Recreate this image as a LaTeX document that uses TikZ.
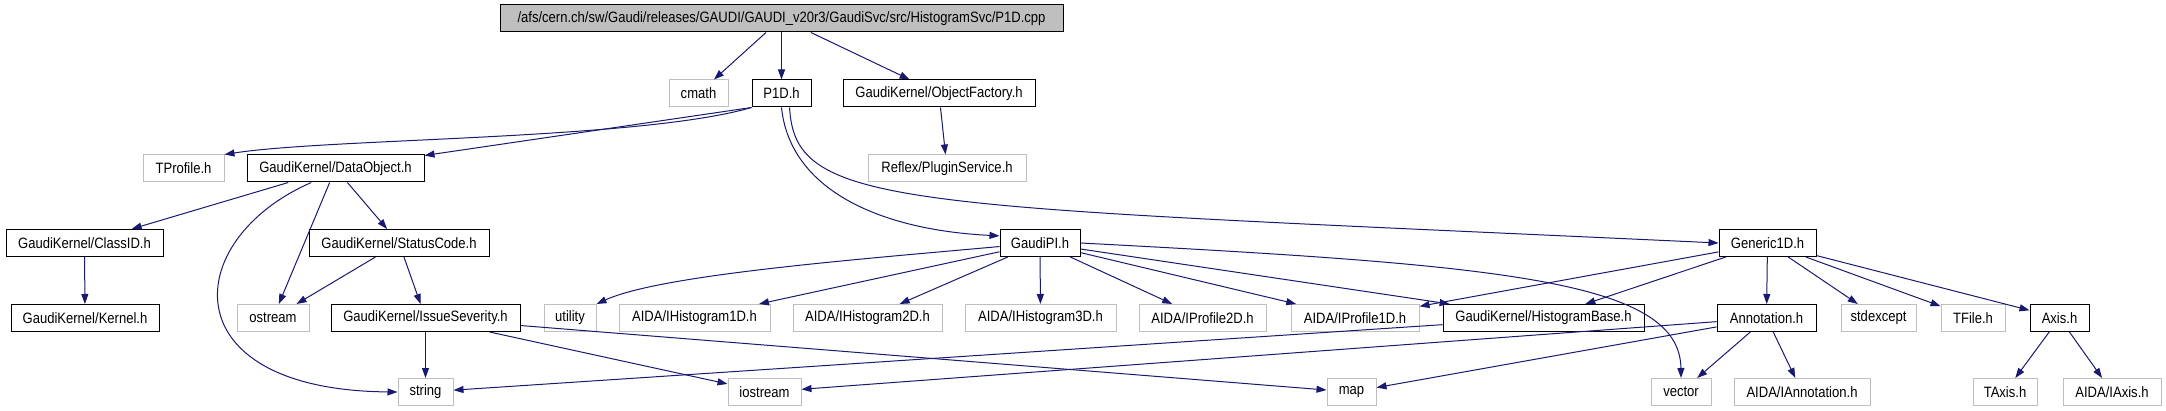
\documentclass[tikz,border=0pt]{standalone}
\usepackage{fontspec}
\setmainfont{Liberation Sans}[FakeStretch=0.87]
\usetikzlibrary{arrows.meta}
\definecolor{edgeblue}{HTML}{191970}
\definecolor{boxgrey}{HTML}{BFBFBF}
\begin{document}
\begin{tikzpicture}
[x=1pt,y=1pt,
  nodedecorate/.style={shape=rectangle,draw,line width=1pt,inner sep=0pt,minimum height=27pt,font=\fontsize{15}{17}\selectfont},%
  extdecorate/.style={nodedecorate,draw=boxgrey},%
  rootdecorate/.style={nodedecorate,fill=boxgrey},%
  arrowdecorate/.style={->,>={Stealth[length=10pt,width=7pt,inset=0pt]},draw=edgeblue,line width=1pt}]
\useasboundingbox (0,0) rectangle (2166,410);
% nodes or vertices
\node (root) at (781.5,391.5) [rootdecorate,minimum width=563pt] {/afs/cern.ch/sw/Gaudi/releases/GAUDI/GAUDI\_v20r3/GaudiSvc/src/HistogramSvc/P1D.cpp};
\node (cmath) at (698.5,316.5) [extdecorate,minimum width=59pt] {cmath};
\node (p1d) at (781.5,316.5) [nodedecorate,minimum width=59pt] {P1D.h};
\node (objfactory) at (939,316.5) [nodedecorate,minimum width=192pt] {GaudiKernel/ObjectFactory.h};
\node (tprofile) at (183.5,241.5) [extdecorate,minimum width=81pt] {TProfile.h};
\node (dataobject) at (335.5,241.5) [nodedecorate,minimum width=177pt] {GaudiKernel/DataObject.h};
\node (pluginsvc) at (947,241.5) [extdecorate,minimum width=158pt] {Reflex/PluginService.h};
\node (classid) at (84.5,167) [nodedecorate,minimum width=157pt] {GaudiKernel/ClassID.h};
\node (statuscode) at (399,167) [nodedecorate,minimum width=180pt] {GaudiKernel/StatusCode.h};
\node (gaudipi) at (1040,167) [nodedecorate,minimum width=80pt] {GaudiPI.h};
\node (generic1d) at (1767.5,167) [nodedecorate,minimum width=97pt] {Generic1D.h};
\node (kernel) at (85,92) [nodedecorate,minimum width=148pt] {GaudiKernel/Kernel.h};
\node (ostream) at (273,92) [extdecorate,minimum width=72pt] {ostream};
\node (severity) at (425.5,92) [nodedecorate,minimum width=189pt] {GaudiKernel/IssueSeverity.h};
\node (utility) at (570,92) [extdecorate,minimum width=52pt] {utility};
\node (ihisto1d) at (694.5,92) [extdecorate,minimum width=151pt] {AIDA/IHistogram1D.h};
\node (ihisto2d) at (867.5,92) [extdecorate,minimum width=149pt] {AIDA/IHistogram2D.h};
\node (ihisto3d) at (1040.5,92) [extdecorate,minimum width=151pt] {AIDA/IHistogram3D.h};
\node (iprof2d) at (1202.5,92) [extdecorate,minimum width=127pt] {AIDA/IProfile2D.h};
\node (iprof1d) at (1355,92) [extdecorate,minimum width=128pt] {AIDA/IProfile1D.h};
\node (histbase) at (1543.5,92) [nodedecorate,minimum width=201pt] {GaudiKernel/HistogramBase.h};
\node (annotation) at (1766.5,92) [nodedecorate,minimum width=99pt] {Annotation.h};
\node (stdexcept) at (1878.5,92) [extdecorate,minimum width=75pt] {stdexcept};
\node (tfile) at (1973,92) [extdecorate,minimum width=64pt] {TFile.h};
\node (axis) at (2059.5,92) [nodedecorate,minimum width=59pt] {Axis.h};
\node (string) at (425.5,18) [extdecorate,minimum width=55pt] {string};
\node (iostream) at (764.5,18) [extdecorate,minimum width=73pt] {iostream};
\node (map) at (1351.5,18) [extdecorate,minimum width=49pt] {map};
\node (vector) at (1681,18) [extdecorate,minimum width=60pt] {vector};
\node (iannotation) at (1802,18) [extdecorate,minimum width=136pt] {AIDA/IAnnotation.h};
\node (taxis) at (2005,18) [extdecorate,minimum width=64pt] {TAxis.h};
\node (iaxis) at (2112,18) [extdecorate,minimum width=98pt] {AIDA/IAxis.h};
% edges or lines
\path
(root) edge[arrowdecorate] (cmath)
(root) edge[arrowdecorate] (p1d)
(root) edge[arrowdecorate] (objfactory)
(objfactory) edge[arrowdecorate] (pluginsvc)
(p1d.south west) edge[arrowdecorate] (dataobject)
(dataobject) edge[arrowdecorate] (classid)
(dataobject) edge[arrowdecorate] (ostream)
(dataobject) edge[arrowdecorate] (statuscode)
(classid) edge[arrowdecorate] (kernel)
(statuscode) edge[arrowdecorate] (ostream)
(statuscode) edge[arrowdecorate] (severity)
(severity) edge[arrowdecorate] (string)
(severity) edge[arrowdecorate] (iostream)
(severity) edge[arrowdecorate] (map)
(gaudipi) edge[arrowdecorate] (ihisto1d)
(gaudipi) edge[arrowdecorate] (ihisto2d)
(gaudipi) edge[arrowdecorate] (ihisto3d)
(gaudipi) edge[arrowdecorate] (iprof2d)
(gaudipi) edge[arrowdecorate] (iprof1d)
(gaudipi) edge[arrowdecorate] (histbase)
(generic1d) edge[arrowdecorate] (iprof1d)
(generic1d) edge[arrowdecorate] (histbase)
(generic1d) edge[arrowdecorate] (annotation)
(generic1d) edge[arrowdecorate] (stdexcept)
(generic1d) edge[arrowdecorate] (tfile)
(generic1d) edge[arrowdecorate] (axis)
(histbase) edge[arrowdecorate] (string)
(annotation) edge[arrowdecorate] (iostream)
(annotation) edge[arrowdecorate] (map)
(annotation) edge[arrowdecorate] (vector)
(annotation) edge[arrowdecorate] (iannotation)
(axis) edge[arrowdecorate] (taxis)
(axis) edge[arrowdecorate] (iaxis);
% curved edges
\draw[arrowdecorate] (p1d.south west) .. controls (640,270) and (330,272) .. (tprofile.north east);
\draw[arrowdecorate] (p1d.south) .. controls (790,220) and (880,180) .. (gaudipi.170);
\draw[arrowdecorate] (p1d.-60) .. controls (795,200) and (900,205) .. (generic1d.west);
\draw[arrowdecorate] (dataobject.-150) .. controls (180,170) and (170,20) .. (string.west);
\draw[arrowdecorate] (gaudipi.185) .. controls (850,150) and (660,135) .. (utility.north east);
\draw[arrowdecorate] (gaudipi.east) .. controls (1500,145) and (1680,130) .. (vector.north);
\end{tikzpicture}
\end{document}
